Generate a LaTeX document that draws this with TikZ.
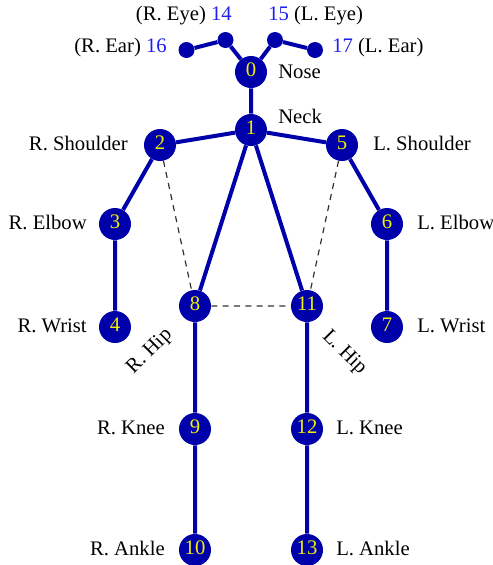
\documentclass[tikz,border=0pt]{standalone}
\usepackage{fontspec}
\setmainfont{Liberation Serif}
\definecolor{bone}{RGB}{0,0,170}
\definecolor{numyellow}{RGB}{240,240,0}
\definecolor{idblue}{RGB}{30,30,240}
\definecolor{guide}{RGB}{50,50,50}
\begin{document}
\begin{tikzpicture}[x=0.75pt,y=-0.75pt,
  font=\fontsize{15.5}{18}\selectfont,
  joint/.style={circle,fill=bone,draw=none,inner sep=0pt,minimum size=24pt,
    text=numyellow,text height=0.68em,text depth=0pt},
  dot/.style={circle,fill=bone,draw=none,inner sep=0pt,minimum size=12pt},
  lab/.style={inner sep=0pt,text height=0.66em,text depth=0pt},
  bonestyle/.style={draw=bone,line width=3pt},
  guidestyle/.style={draw=guide,line width=0.9pt,dash pattern=on 4.5pt off 4pt}]
\path[use as bounding box] (0,0) rectangle (493,565);

% joints
\node[joint] (n0) at (251,72) {0};
\node[joint] (n1) at (251,130) {1};
\node[joint] (n2) at (160,145) {2};
\node[joint] (n5) at (342,145) {5};
\node[joint] (n3) at (115,224) {3};
\node[joint] (n6) at (387,224) {6};
\node[joint] (n4) at (115,327) {4};
\node[joint] (n7) at (387,327) {7};
\node[joint] (n8) at (195,306) {8};
\node[joint] (n11) at (307,306) {11};
\node[joint] (n9) at (195,429) {9};
\node[joint] (n12) at (307,429) {12};
\node[joint] (n10) at (195,550) {10};
\node[joint] (n13) at (307,550) {13};
\node[dot] (n14) at (225.5,40) {};
\node[dot] (n15) at (275,40) {};
\node[dot] (n16) at (186.5,50) {};
\node[dot] (n17) at (315,50) {};

% skeleton
\path[bonestyle]
  (n0) -- (n1)
  (n1) -- (n2) (n1) -- (n5)
  (n2) -- (n3) (n3) -- (n4)
  (n5) -- (n6) (n6) -- (n7)
  (n1) -- (n8) (n1) -- (n11)
  (n8) -- (n9) (n9) -- (n10)
  (n11) -- (n12) (n12) -- (n13)
  (n0) -- (n14) (n14) -- (n16)
  (n0) -- (n15) (n15) -- (n17);
\path[guidestyle] (n2) -- (n8) (n5) -- (n11) (n8) -- (n11);

% names
\node[lab,anchor=east] (tEyeR) at (232,16) {(R. Eye) \textcolor{idblue}{14}};
\node[lab,anchor=west] (tEyeL) at (268,16) {\textcolor{idblue}{15} (L. Eye)};
\node[lab,anchor=east] (tEarR) at (167,48) {(R. Ear) \textcolor{idblue}{16}};
\node[lab,anchor=west] (tEarL) at (332,48) {\textcolor{idblue}{17} (L. Ear)};
\node[lab,anchor=west] (tNose) at (278,74) {Nose};
\node[lab,anchor=west] (tNeck) at (278,119) {Neck};
\node[lab,anchor=east] (tShR) at (128,146) {R. Shoulder};
\node[lab,anchor=west] (tShL) at (373,146) {L. Shoulder};
\node[lab,anchor=east] (tElR) at (87,225) {R. Elbow};
\node[lab,anchor=west] (tElL) at (417,225) {L. Elbow};
\node[lab,anchor=east] (tWrR) at (87,328) {R. Wrist};
\node[lab,anchor=west] (tWrL) at (417,328) {L. Wrist};
\node[lab,rotate=45] (tHipR) at (150,352) {R. Hip};
\node[lab,rotate=-45] (tHipL) at (344,353) {L. Hip};
\node[lab,anchor=east] (tKnR) at (165,430) {R. Knee};
\node[lab,anchor=west] (tKnL) at (336,430) {L. Knee};
\node[lab,anchor=east] (tAnR) at (165,551) {R. Ankle};
\node[lab,anchor=west] (tAnL) at (336,551) {L. Ankle};
\end{tikzpicture}
\end{document}
